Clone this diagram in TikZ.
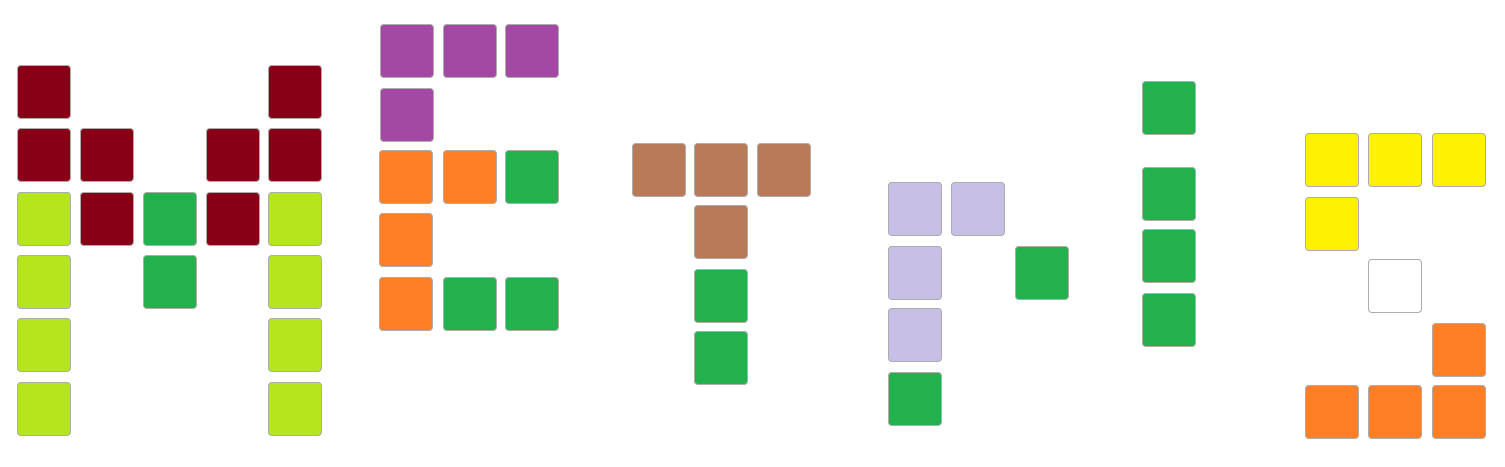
\documentclass[tikz,border=0pt]{standalone}
\usepackage{tikz}
\usetikzlibrary{positioning}
\definecolor{darkred}{RGB}{136,0,21}
\definecolor{lime}{RGB}{181,230,29}
\definecolor{paintgreen}{RGB}{34,177,76}
\definecolor{paintorange}{RGB}{255,127,39}
\definecolor{purple}{RGB}{163,73,164}
\definecolor{brown}{RGB}{185,122,87}
\definecolor{lavender}{RGB}{200,191,231}
\definecolor{paintyellow}{RGB}{255,242,0}
\tikzset{cell/.style={%
      rectangle, draw=gray!65, line width=0.9pt, rounded corners=3pt,
      anchor=north west, minimum width=53pt, minimum height=53pt, inner sep=0pt
}}

\begin{document}
\begin{tikzpicture}[x=1pt,y=-1pt]
    \useasboundingbox (0,0) rectangle (1505,466);
    % M
    \foreach \n/\x/\y/\c in {a/17/65/darkred, b/268/65/darkred,
        c/17/128/darkred, d/80/128/darkred, e/206/128/darkred, f/268/128/darkred,
        g/17/192/lime, h/80/192/darkred, i/143/192/paintgreen, j/206/192/darkred, k/268/192/lime,
        l/17/255/lime, m/143/255/paintgreen, n/268/255/lime,
        o/17/318/lime, p/268/318/lime,
        q/17/382/lime, r/268/382/lime}
      \node[cell, fill=\c] (M\n) at (\x,\y) {};
    % E
    \foreach \n/\x/\y/\c in {a/380/24/purple, b/443/24/purple, c/505/24/purple,
        d/380/88/purple,
        e/379/150/paintorange, f/443/150/paintorange, g/505/150/paintgreen,
        h/379/213/paintorange,
        i/379/277/paintorange, j/443/277/paintgreen, k/505/277/paintgreen}
      \node[cell, fill=\c] (E\n) at (\x,\y) {};
    % T
    \foreach \n/\x/\y/\c in {a/632/143/brown, b/694/143/brown, c/757/143/brown,
        d/694/205/brown, e/694/269/paintgreen, f/694/331/paintgreen}
      \node[cell, fill=\c] (T\n) at (\x,\y) {};
    % R
    \foreach \n/\x/\y/\c in {a/888/182/lavender, b/951/182/lavender,
        c/888/246/lavender, d/1015/246/paintgreen,
        e/888/308/lavender, f/888/372/paintgreen}
      \node[cell, fill=\c] (R\n) at (\x,\y) {};
    % I
    \foreach \n/\y in {a/81, b/167, c/229, d/293}
      \node[cell, fill=paintgreen] (I\n) at (1142,\y) {};
    % S
    \foreach \n/\x/\y/\c in {a/1305/133/paintyellow, b/1368/133/paintyellow, c/1432/133/paintyellow,
        d/1305/197/paintyellow, e/1368/259/white, f/1432/323/paintorange,
        g/1305/385/paintorange, h/1368/385/paintorange, i/1432/385/paintorange}
      \node[cell, fill=\c] (S\n) at (\x,\y) {};
\end{tikzpicture}
\end{document}
